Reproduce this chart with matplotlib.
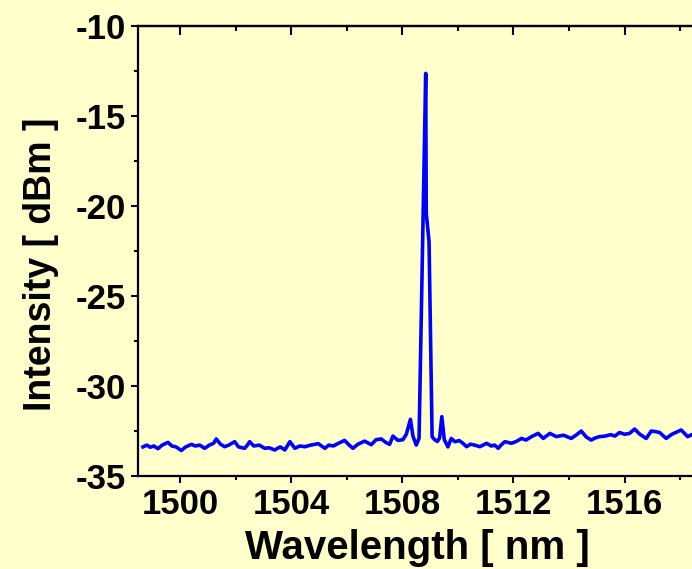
import numpy as np
import matplotlib.pyplot as plt
from matplotlib.ticker import MultipleLocator

plt.rcParams['font.family'] = ['Liberation Sans', 'DejaVu Sans']
plt.rcParams['font.weight'] = 'bold'
plt.rcParams['axes.unicode_minus'] = False

# spectrum (wavelength in nm, intensity in dBm)
wavelength = [
    1498.66, 1498.80, 1498.92, 1499.05, 1499.20, 1499.35, 1499.56, 1499.70, 1499.85, 1500.04,
    1500.20, 1500.40, 1500.55, 1500.70, 1500.88, 1501.05, 1501.20, 1501.30, 1501.45, 1501.60,
    1501.75, 1501.96, 1502.10, 1502.32, 1502.42, 1502.50, 1502.65, 1502.85, 1503.04, 1503.20,
    1503.40, 1503.60, 1503.77, 1503.95, 1504.13, 1504.30, 1504.49, 1504.70, 1504.97, 1505.21,
    1505.35, 1505.51, 1505.70, 1505.92, 1506.05, 1506.22, 1506.40, 1506.64, 1506.88, 1507.05,
    1507.24, 1507.40, 1507.54, 1507.66, 1507.84, 1508.02, 1508.14, 1508.29, 1508.38, 1508.50,
    1508.60, 1508.84, 1508.86, 1508.96, 1509.07, 1509.16, 1509.26, 1509.34, 1509.42, 1509.51,
    1509.64, 1509.76, 1509.89, 1510.05, 1510.18, 1510.31, 1510.45, 1510.60, 1510.79, 1511.03,
    1511.20, 1511.32, 1511.45, 1511.55, 1511.69, 1511.93, 1512.10, 1512.29, 1512.45, 1512.65,
    1512.89, 1513.07, 1513.31, 1513.54, 1513.80, 1514.08, 1514.25, 1514.44, 1514.62, 1514.80,
    1514.95, 1515.10, 1515.30, 1515.50, 1515.65, 1515.82, 1516.00, 1516.18, 1516.36, 1516.55,
    1516.78, 1516.96, 1517.10, 1517.26, 1517.50, 1517.70, 1518.04, 1518.27, 1518.45,
]
intensity = [
    -33.40, -33.30, -33.42, -33.35, -33.50, -33.30, -33.15, -33.35, -33.40, -33.60,
    -33.40, -33.26, -33.35, -33.30, -33.48, -33.30, -33.20, -32.96, -33.25, -33.39,
    -33.30, -33.11, -33.40, -33.48, -33.30, -33.11, -33.35, -33.30, -33.48, -33.45,
    -33.57, -33.40, -33.57, -33.11, -33.48, -33.35, -33.39, -33.30, -33.22, -33.48,
    -33.30, -33.35, -33.20, -33.04, -33.25, -33.48, -33.25, -33.08, -33.28, -33.00,
    -32.96, -33.15, -33.26, -32.80, -33.04, -33.00, -32.70, -31.87, -32.80, -33.30,
    -32.92, -12.65, -20.42, -22.00, -32.83, -33.00, -33.10, -32.90, -31.72, -33.00,
    -33.40, -32.93, -33.11, -33.05, -33.20, -33.39, -33.25, -33.30, -33.39, -33.20,
    -33.35, -33.30, -33.48, -33.30, -33.11, -33.20, -33.10, -32.93, -33.02, -32.83,
    -32.65, -32.93, -32.65, -32.83, -32.75, -32.93, -32.75, -32.52, -32.85, -33.02,
    -32.90, -32.83, -32.80, -32.72, -32.80, -32.60, -32.70, -32.65, -32.41, -32.70,
    -32.93, -32.52, -32.55, -32.60, -32.93, -32.70, -32.46, -32.83, -32.70,
]

xticks = [1500, 1504, 1508, 1512, 1516]
yticks = [-10, -15, -20, -25, -30, -35]

bg = '#FFFFCC'
fig = plt.figure(figsize=(6.92, 5.69), dpi=100, facecolor=bg)
# axes run past the right edge of the figure, as in the reference crop
ax = fig.add_axes([0.1994, 0.164, 0.8637, 0.7908], facecolor=bg)

ax.plot(wavelength, intensity, color='#0000FF', lw=2.6, solid_joinstyle='round')

ax.set_xlim(1498.48, 1520.0)
ax.set_ylim(-35, -10)
ax.set_xticks(xticks)
ax.set_yticks(yticks)
ax.xaxis.set_minor_locator(MultipleLocator(2))
ax.yaxis.set_minor_locator(MultipleLocator(2.5))

for s in ax.spines.values():
    s.set_linewidth(1.6)
ax.tick_params(axis='both', which='major', direction='out', length=5, width=1.5,
               labelsize=25, pad=4)
ax.tick_params(axis='both', which='minor', direction='out', length=2.8, width=1.5)

# top ticks point inward
top = ax.secondary_xaxis('top')
top.set_xticks(xticks)
top.xaxis.set_minor_locator(MultipleLocator(2))
top.tick_params(which='major', direction='in', length=6.5, width=1.5, labeltop=False)
top.tick_params(which='minor', direction='in', length=3.6, width=1.5)
top.spines['top'].set_linewidth(1.6)

ax.set_xlabel('Wavelength [ nm ]', fontsize=29, fontweight='bold')
ax.set_ylabel('Intensity [ dBm ]', fontsize=27, fontweight='bold')
ax.xaxis.label.set_verticalalignment('center')
ax.yaxis.label.set_verticalalignment('center')
ax.xaxis.set_label_coords(0.4668, -0.1607)
ax.yaxis.set_label_coords(-0.162, 0.470)

fig.savefig('out.png', dpi=100, facecolor=bg)
